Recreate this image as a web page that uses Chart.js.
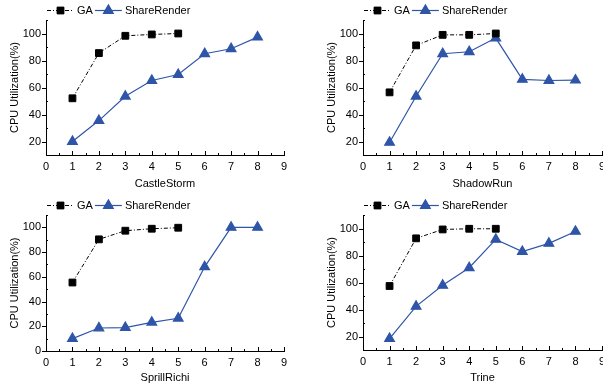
<!DOCTYPE html>
<html>
<head>
<meta charset="utf-8">
<script src="https://cdn.jsdelivr.net/npm/chart.js@4.4.0/dist/chart.umd.min.js"></script>
<style>
  body { margin: 0; background: #fff; width: 603px; height: 385px; position: relative; overflow: hidden; }
  .panel { position: absolute; overflow: hidden; }
  canvas { display: block; }
</style>
</head>
<body>
<div class="panel" style="left:0;top:0;width:300px;height:195px"><canvas id="c1" width="300" height="195"></canvas></div>
<div class="panel" style="left:300px;top:0;width:303px;height:195px"><canvas id="c2" width="320" height="195"></canvas></div>
<div class="panel" style="left:0;top:195px;width:300px;height:190px"><canvas id="c3" width="300" height="190"></canvas></div>
<div class="panel" style="left:300px;top:195px;width:303px;height:190px"><canvas id="c4" width="320" height="190"></canvas></div>
<script>
// data
const gaX = [1, 2, 3, 4, 5];
const srX = [1, 2, 3, 4, 5, 6, 7, 8];
const xTicks = [0, 1, 2, 3, 4, 5, 6, 7, 8, 9];

const castleGA = [52, 85.5, 98.3, 99.3, 100];
const castleSR = [20, 35.5, 53.5, 65.2, 69.6, 85, 88.7, 97.3];
const shadowGA = [56.4, 91.2, 99, 99, 100];
const shadowSR = [19.3, 53.5, 85, 86.5, 96.6, 66, 65.2, 65.4];
const sprillGA = [55.4, 90.3, 97.3, 98.9, 99.7];
const sprillSR = [10, 18.6, 18.9, 23.2, 26.5, 68.1, 100, 100];
const trineGA = [57.4, 92.7, 99.3, 99.8, 99.8];
const trineSR = [18.5, 42.3, 57.9, 70.9, 91.9, 82.9, 89, 97.8];

const yTicksA = [20, 40, 60, 80, 100];
const yTicksB = [0, 20, 40, 60, 80, 100];

const FONT = 'Arial, "Liberation Sans", sans-serif';
const BLUE = '#2f55a8';

// origin-style tick marks (majors + minors)
const tickMarks = {
  id: 'tickMarks',
  afterDraw(chart) {
    const { ctx, chartArea: a, scales: { x, y } } = chart;
    const yt = chart.options.plugins.tickMarks.yTicks;
    ctx.save();
    ctx.strokeStyle = '#000';
    ctx.lineWidth = 1;
    ctx.beginPath();
    for (let v = x.min; v <= x.max + 1e-9; v += 0.5) {
      const px = Math.round(x.getPixelForValue(v)) + 0.5;
      const len = Number.isInteger(v) ? 4 : 2;
      ctx.moveTo(px, a.bottom);
      ctx.lineTo(px, a.bottom - len);
    }
    for (let v = y.min; v <= y.max + 1e-9; v += 10) {
      const py = Math.round(y.getPixelForValue(v)) + 0.5;
      if (yt.includes(v)) {
        ctx.moveTo(a.left - 4, py);
        ctx.lineTo(a.left, py);
      } else {
        ctx.moveTo(a.left, py);
        ctx.lineTo(a.left + 2, py);
      }
    }
    ctx.stroke();
    ctx.restore();
  }
};

// legend with line + marker sample
const lineLegend = {
  id: 'lineLegend',
  afterDraw(chart) {
    const { ctx, chartArea: a } = chart;
    const yy = 10.5;
    let xx = a.left + 1;
    ctx.save();
    ctx.font = '11px ' + FONT;
    ctx.textBaseline = 'middle';
    chart.data.datasets.forEach((ds) => {
      ctx.strokeStyle = ds.borderColor;
      ctx.lineWidth = ds.borderWidth;
      ctx.setLineDash(ds.borderDash || []);
      ctx.beginPath();
      ctx.moveTo(xx, yy);
      ctx.lineTo(xx + 27, yy);
      ctx.stroke();
      ctx.setLineDash([]);
      Chart.helpers.drawPoint(ctx, {
        pointStyle: ds.pointStyle, radius: ds.pointRadius, borderWidth: 1, rotation: 0
      }, xx + 13.5, yy);
      ctx.fillStyle = ds.pointBackgroundColor;
      ctx.strokeStyle = ds.pointBorderColor;
      ctx.fill();
      ctx.fillStyle = '#000';
      ctx.fillText(ds.label, xx + 30, yy + 0.5);
      xx += 30 + ctx.measureText(ds.label).width + 2;
    });
    ctx.restore();
  }
};

function makePanel(id, name, ga, sr, yMin, yTicks, g) {
  new Chart(document.getElementById(id), {
    type: 'line',
    data: {
      datasets: [
        {
          label: 'GA',
          data: gaX.map((x, i) => ({ x, y: ga[i] })),
          borderColor: '#000', borderWidth: 1, borderDash: [4, 2, 1, 2],
          pointStyle: 'rect', pointRadius: 4.8,
          pointBackgroundColor: '#000', pointBorderColor: '#000'
        },
        {
          label: 'ShareRender',
          data: srX.map((x, i) => ({ x, y: sr[i] })),
          borderColor: BLUE, borderWidth: 1.2,
          pointStyle: 'triangle', pointRadius: 5.6,
          pointBackgroundColor: BLUE, pointBorderColor: BLUE
        }
      ]
    },
    options: {
      responsive: false,
      animation: false,
      layout: { padding: { left: 0, top: 20, right: g.padRight, bottom: g.padBottom } },
      plugins: {
        legend: { display: false },
        tooltip: { enabled: false },
        tickMarks: { yTicks }
      },
      scales: {
        x: {
          type: 'linear', min: 0, max: 9,
          afterBuildTicks: (s) => { s.ticks = xTicks.map((v) => ({ value: v })); },
          afterFit: (s) => { s.height = g.xHeight; },
          grid: { display: false, drawTicks: false },
          border: { display: true, color: '#000', width: 1 },
          ticks: { color: '#000', padding: 5, maxRotation: 0, font: { size: 11, family: FONT } },
          title: { display: true, text: name, color: '#000', padding: 0, font: { size: 11, family: FONT } }
        },
        y: {
          min: yMin, max: 110,
          afterBuildTicks: (s) => { s.ticks = yTicks.map((v) => ({ value: v })); },
          afterFit: (s) => { s.width = g.yWidth; },
          grid: { display: false, drawTicks: false },
          border: { display: true, color: '#000', width: 1 },
          ticks: { color: '#000', padding: 5, font: { size: 11, family: FONT } },
          title: {
            display: true, text: 'CPU Utilization(%)', color: '#000',
            padding: { top: g.titlePad, bottom: 0 }, font: { size: 11, family: FONT }
          }
        }
      }
    },
    plugins: [tickMarks, lineLegend]
  });
}

makePanel('c1', 'CastleStorm', castleGA, castleSR, 10, yTicksA,
  { yWidth: 46, xHeight: 36, padRight: 16, padBottom: 4, titlePad: 8 });
makePanel('c2', 'ShadowRun', shadowGA, shadowSR, 10, yTicksA,
  { yWidth: 63, xHeight: 36, padRight: 18, padBottom: 4, titlePad: 25 });
makePanel('c3', 'SprillRichi', sprillGA, sprillSR, 0, yTicksB,
  { yWidth: 46, xHeight: 34, padRight: 16, padBottom: 0, titlePad: 8 });
makePanel('c4', 'Trine', trineGA, trineSR, 10, yTicksA,
  { yWidth: 63, xHeight: 35, padRight: 18, padBottom: 0, titlePad: 25 });
</script>
</body>
</html>
